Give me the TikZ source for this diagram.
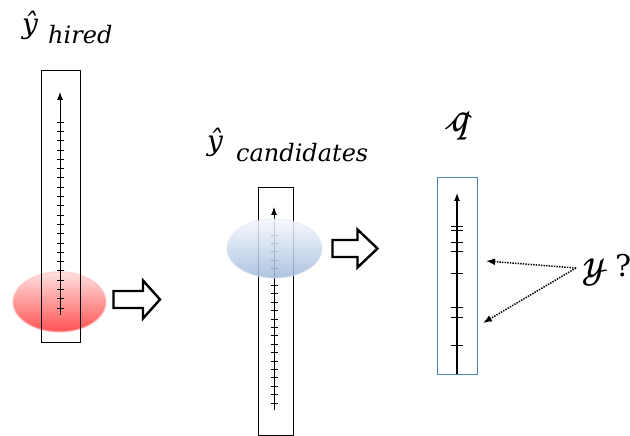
\documentclass[tikz,border=0pt]{standalone}
\usepackage{fontspec}
\setmainfont{DejaVu Serif}
\newif\iffoundscr
\gdef\scrname{}
\newcommand\tryscr[1]{%
  \iffoundscr\else
    \IfFontExistsTF{#1}{%
      \begingroup
      \fontspec{#1}%
      \iffontchar\font"1D4C6 \global\foundscrtrue\gdef\scrname{#1}\fi
      \endgroup
    }{}%
  \fi}
\tryscr{STIX Two Math}
\tryscr{STIXTwoMath-Regular.otf}
\tryscr{XITS Math}
\tryscr{XITSMath-Regular.otf}
\tryscr{Libertinus Math}
\tryscr{TeX Gyre Termes Math}
\tryscr{TeX Gyre Pagella Math}
\tryscr{Asana Math}
\tryscr{Latin Modern Math}
\iffoundscr
  \newfontfamily\scrfont{\scrname}
  \newcommand\scrq{\symbol{"1D4C6}}
  \newcommand\scry{\symbol{"1D4CE}}
\else
  \newfontfamily\scrfont{DejaVu Serif}
  \newcommand\scrq{\itshape q}
  \newcommand\scry{\itshape y}
\fi
\usetikzlibrary{arrows.meta}
\definecolor{qblue}{RGB}{79,129,189}
\tikzset{
  frame/.style={draw=black, line width=0.9bp, inner sep=0pt, outer sep=0pt},
  axis/.style={line width=0.9bp, -{Latex[length=8bp,width=6bp]}},
  tick/.style={line width=0.7bp},
  blockarrow/.style={draw=black, fill=white, line width=2.4bp, line join=miter},
  guess/.style={line width=1.5bp, dash pattern=on 1.4bp off 1.2bp, -{Latex[length=9bp,width=7bp]}},
  lbl/.style={inner sep=0pt, font=\fontsize{24bp}{28bp}\selectfont\itshape},
  hat/.style={inner sep=0pt, font=\fontsize{28bp}{32bp}\selectfont\itshape},
  scr/.style={inner sep=0pt, font=\fontsize{39bp}{44bp}\selectfont\scrfont},
}
\begin{document}
\begin{tikzpicture}[x=1bp,y=-1bp]
\useasboundingbox (0,0) rectangle (630,436);

% red ellipse (behind)
\shade[top color=red!12, bottom color=red!68!white, draw=red!25, line width=1.5bp, draw opacity=0.6]
  (59.5,302) ellipse [x radius=46.5, y radius=30];

% boxes
\node[frame, minimum width=39bp, minimum height=272bp] (boxL) at (60.5,206) {};
\node[frame, minimum width=35bp, minimum height=248bp] (boxM) at (275.5,311) {};
\node[frame, draw=qblue, line width=1bp, minimum width=40bp, minimum height=196bp] (boxR) at (457,276) {};

% left axis
\coordinate (aLb) at (60,315);
\coordinate (aLt) at (60,92);
\draw[axis] (aLb) -- (aLt);
\foreach \k in {0,...,20}{
  \draw[tick] (56.5,122+9.3*\k) -- (63.5,122+9.3*\k);
}

% middle axis
\coordinate (aMb) at (274,410);
\coordinate (aMt) at (274,207);
\draw[axis] (aMb) -- (aMt);
\foreach \k in {0,...,20}{
  \draw[tick] (270.5,235+8.4*\k) -- (277.5,235+8.4*\k);
}

% blue ellipse (on top, translucent)
\shade[top color=blue!3!white, bottom color=qblue!55!white, fill opacity=0.85, draw=qblue!20, line width=1.5bp, draw opacity=0.5]
  (274.5,248.5) ellipse [x radius=47.5, y radius=29.5];

% right axis
\coordinate (aRb) at (457,374);
\coordinate (aRt) at (457,193);
\draw[axis, line width=1.2bp] (aRb) -- (aRt);
\foreach \yy in {227,230.5,243,252,274,307,317,345}{
  \draw[line width=1bp] (451,\yy) -- (463,\yy);
}

% block arrows
\draw[blockarrow] (113.5,291) -- (143,291) -- (143,280.5) -- (160,299.5) -- (143,318.5) -- (143,308) -- (113.5,308) -- cycle;
\draw[blockarrow] (332.5,240) -- (357.5,240) -- (357.5,229.5) -- (377.5,248.5) -- (357.5,267.5) -- (357.5,257) -- (332.5,257) -- cycle;

% labels
\node[hat, anchor=base] (yhatH) at (30,34) {ŷ};
\node[lbl, anchor=base west] (subH) at (48,44) {hired};
\node[hat, anchor=base] (yhatM) at (215,151) {ŷ};
\node[lbl, anchor=base west] (subM) at (236,162) {candidates};
\node[scr] (qlbl) at (460,126) {\scrq};
\node[scr, anchor=base west] (ylbl) at (583,278) {\scry};
\node[lbl, anchor=base west, font=\fontsize{30bp}{34bp}\selectfont] (qmark) at (615,277) {?};

% dotted guesses
\coordinate (ys) at (576,268);
\coordinate (g1) at (486,261);
\coordinate (g2) at (483,323);
\draw[guess] (ys) -- (g1);
\draw[guess] (ys) -- (g2);
\end{tikzpicture}
\end{document}
